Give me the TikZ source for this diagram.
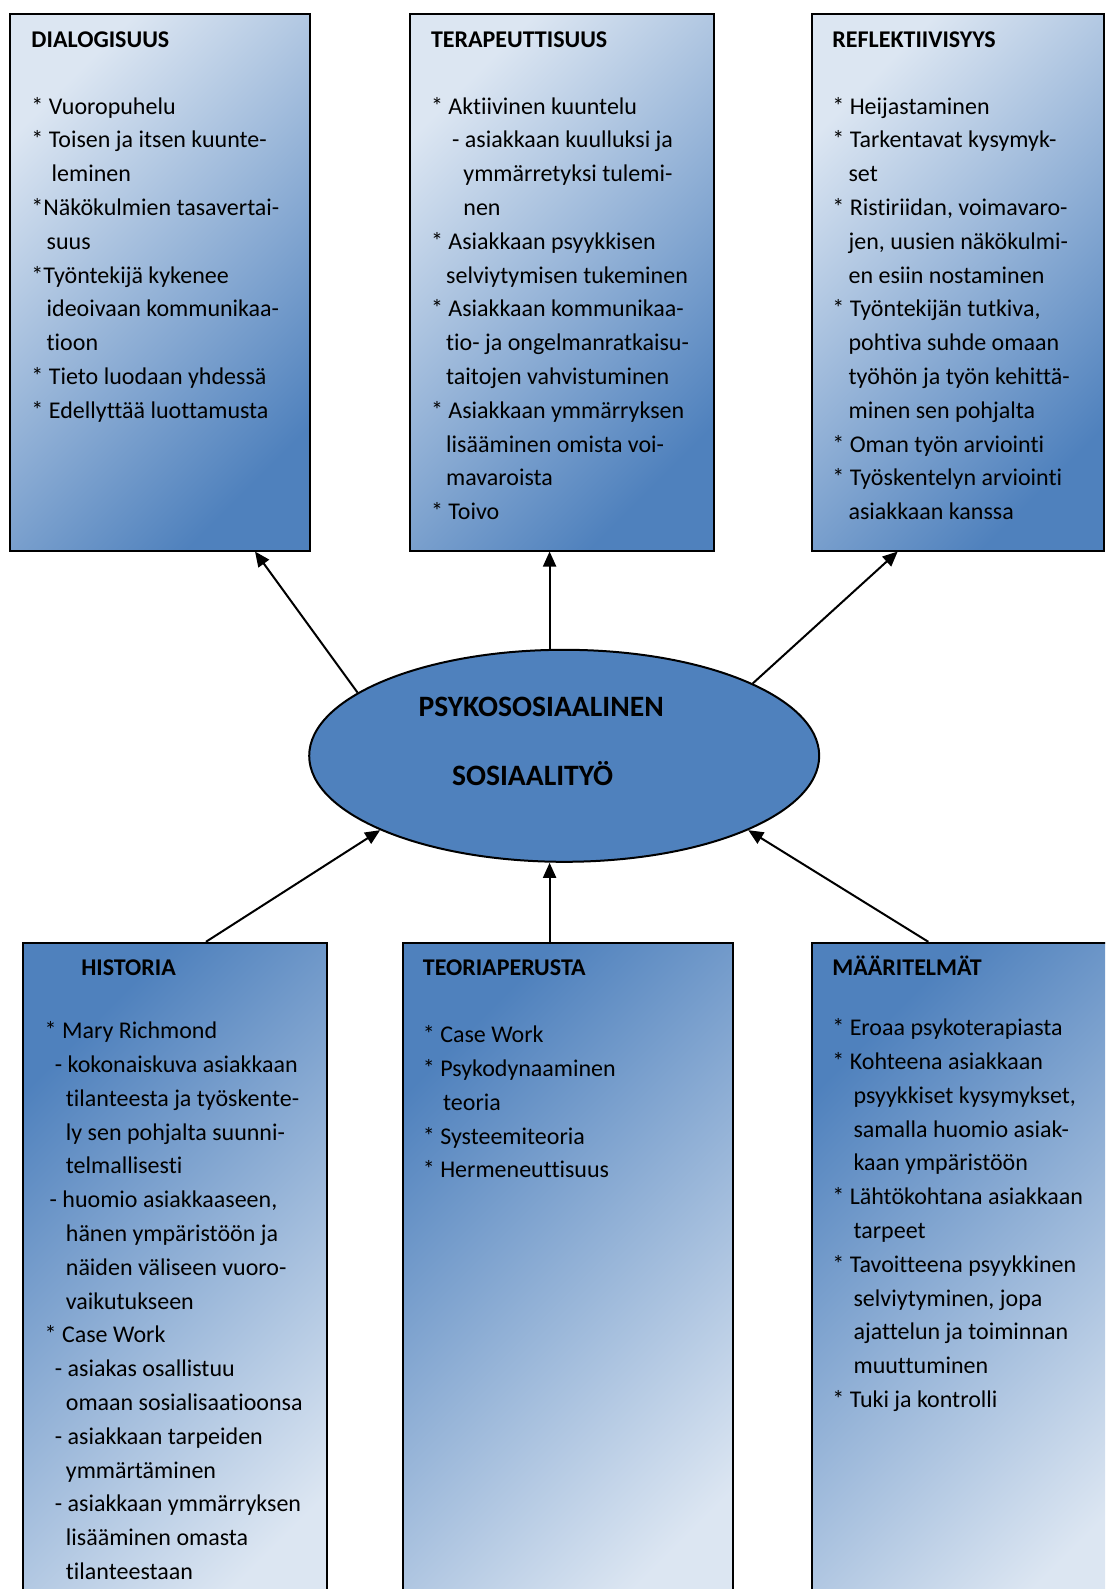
\documentclass[tikz,border=0pt]{standalone}
\usepackage{fontspec}
\setmainfont{Carlito}[Ligatures=NoCommon]
\usetikzlibrary{shapes.geometric,arrows.meta,calc}

\definecolor{boxlight}{RGB}{220,230,242}
\definecolor{boxblue}{RGB}{79,129,189}

\tikzset{
  topbox/.style={draw, line width=1pt, anchor=north west, inner sep=0pt,
    top color=boxlight, bottom color=boxblue, shading angle=45},
  lowbox/.style={draw, line width=1pt, anchor=north west, inner sep=0pt,
    top color=boxblue, bottom color=boxlight, shading angle=45},
  boxtext/.style={anchor=north west, inner sep=0pt, align=left,
    font=\fontsize{12}{16.9}\selectfont},
  arr/.style={line width=1pt, -{Triangle[length=7.5pt,width=6.5pt]}}
}

\begin{document}
\begin{tikzpicture}[x=0.5pt,y=-0.5pt]
\path[use as bounding box] (0,0) rectangle (1105,1589);
\clip (0,0) rectangle (1105,1589);

% upper row
\node[topbox, minimum width=150.05pt, minimum height=268.15pt] (dia) at (9.1,13.2) {};
\node[topbox, minimum width=152.05pt, minimum height=268.15pt] (ter) at (408.6,13.2) {};
\node[topbox, minimum width=146pt, minimum height=268.15pt] (ref) at (811,13.2) {};

% centre
\node[ellipse, draw, line width=1pt, fill=boxblue, minimum width=255pt, minimum height=106pt] (core) at (564.2,755.8) {};
\node[anchor=north west, inner sep=0pt, align=left, font=\bfseries\fontsize{14.8}{17.4}\selectfont]
  (coretxt) at ([shift={(-146,-64)}]core.center)
  {\strut PSYKOSOSIAALINEN\\[17.1pt]\hspace*{16.7pt}SOSIAALITYÖ};

% lower row
\node[lowbox, minimum width=152.05pt, minimum height=350pt] (his) at (22.3,941.8) {};
\node[lowbox, minimum width=165.25pt, minimum height=350pt] (teo) at (401.5,941.8) {};
\node[lowbox, minimum width=159.5pt, minimum height=350pt] (maa) at (811,941.8) {};

% texts
\node[boxtext] (diatxt) at ([shift={(22,10)}]dia.north west)
  {\strut\textbf{DIALOGISUUS}\\[16.5pt]
   * Vuoropuhelu\\
   * Toisen ja itsen kuunte-\\
   \hspace*{10.1pt}leminen\\
   *Näkökulmien tasavertai-\\
   \hspace*{7.6pt}suus\\
   *Työntekijä kykenee\\
   \hspace*{7.6pt}ideoivaan kommunikaa-\\
   \hspace*{7.6pt}tioon\\
   * Tieto luodaan yhdessä\\
   * Edellyttää luottamusta};

\node[boxtext] (tertxt) at ([shift={(22,10)}]ter.north west)
  {\strut\textbf{TERAPEUTTISUUS}\\[16.5pt]
   * Aktiivinen kuuntelu\\
   \hspace*{10.6pt}- asiakkaan kuulluksi ja\\
   \hspace*{16.2pt}ymmärretyksi tulemi-\\
   \hspace*{16.2pt}nen\\
   * Asiakkaan psyykkisen\\
   \hspace*{7.6pt}selviytymisen tukeminen\\
   * Asiakkaan kommunikaa-\\
   \hspace*{7.6pt}tio- ja ongelmanratkaisu-\\
   \hspace*{7.6pt}taitojen vahvistuminen\\
   * Asiakkaan ymmärryksen\\
   \hspace*{7.6pt}lisääminen omista voi-\\
   \hspace*{7.6pt}mavaroista\\
   * Toivo};

\node[boxtext] (reftxt) at ([shift={(21,10)}]ref.north west)
  {\strut\textbf{REFLEKTIIVISYYS}\\[16.5pt]
   * Heijastaminen\\
   * Tarkentavat kysymyk-\\
   \hspace*{8.1pt}set\\
   * Ristiriidan, voimavaro-\\
   \hspace*{8.1pt}jen, uusien näkökulmi-\\
   \hspace*{8.1pt}en esiin nostaminen\\
   * Työntekijän tutkiva,\\
   \hspace*{8.1pt}pohtiva suhde omaan\\
   \hspace*{8.1pt}työhön ja työn kehittä-\\
   \hspace*{8.1pt}minen sen pohjalta\\
   * Oman työn arviointi\\
   * Työskentelyn arviointi\\
   \hspace*{8.1pt}asiakkaan kanssa};

\node[boxtext] (histxt) at ([shift={(22,10)}]his.north west)
  {\strut\hspace*{18.3pt}\textbf{HISTORIA}\\[14.5pt]
   * Mary Richmond\\
   \hspace*{5.1pt}- kokonaiskuva asiakkaan\\
   \hspace*{10.6pt}tilanteesta ja työskente-\\
   \hspace*{10.6pt}ly sen pohjalta suunni-\\
   \hspace*{10.6pt}telmallisesti\\
   \hspace*{2.5pt}- huomio asiakkaaseen,\\
   \hspace*{10.6pt}hänen ympäristöön ja\\
   \hspace*{10.6pt}näiden väliseen vuoro-\\
   \hspace*{10.6pt}vaikutukseen\\
   * Case Work\\
   \hspace*{5.1pt}- asiakas osallistuu\\
   \hspace*{10.6pt}omaan sosialisaatioonsa\\
   \hspace*{5.1pt}- asiakkaan tarpeiden\\
   \hspace*{10.6pt}ymmärtäminen\\
   \hspace*{5.1pt}- asiakkaan ymmärryksen\\
   \hspace*{10.6pt}lisääminen omasta\\
   \hspace*{10.6pt}tilanteestaan};

\node[boxtext] (teotxt) at ([shift={(21,10)}]teo.north west)
  {\strut\textbf{TEORIAPERUSTA}\\[16.5pt]
   * Case Work\\
   * Psykodynaaminen\\
   \hspace*{10.1pt}teoria\\
   * Systeemiteoria\\
   * Hermeneuttisuus};

\node[boxtext] (maatxt) at ([shift={(21,10)}]maa.north west)
  {\strut\textbf{MÄÄRITELMÄT}\\[13pt]
   * Eroaa psykoterapiasta\\
   * Kohteena asiakkaan\\
   \hspace*{10.6pt}psyykkiset kysymykset,\\
   \hspace*{10.6pt}samalla huomio asiak-\\
   \hspace*{10.6pt}kaan ympäristöön\\
   * Lähtökohtana asiakkaan\\
   \hspace*{10.6pt}tarpeet\\
   * Tavoitteena psyykkinen\\
   \hspace*{10.6pt}selviytyminen, jopa\\
   \hspace*{10.6pt}ajattelun ja toiminnan\\
   \hspace*{10.6pt}muuttuminen\\
   * Tuki ja kontrolli};

% arrows
\coordinate (up) at ([xshift=-7.3pt]core.north);
\coordinate (down) at ([xshift=-7.3pt]core.south);
\draw[arr] (core.163) -- ($(dia.south west)!0.814!(dia.south east)$);
\draw[arr] (up) -- (up |- ter.south);
\draw[arr] (core.21) -- ($(ref.south west)!0.295!(ref.south east)$);
\draw[arr] ($(his.north west)!0.6!(his.north east)$) -- (core.202);
\draw[arr] (down |- teo.north) -- (down);
\draw[arr] ($(maa.north west)!0.3655!(maa.north east)$) -- (core.338);

\end{tikzpicture}
\end{document}
